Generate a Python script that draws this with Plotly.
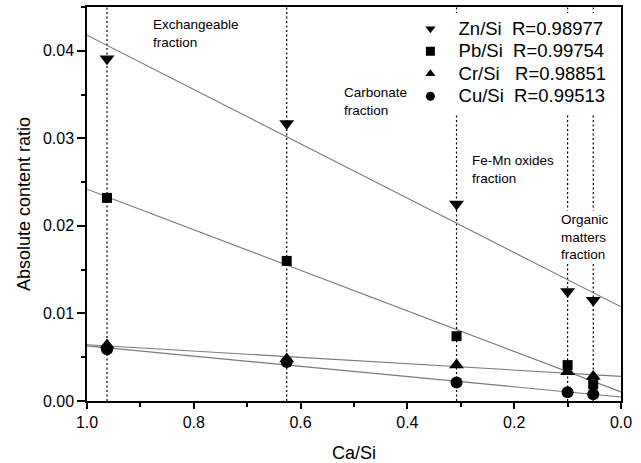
import numpy as np
import plotly.graph_objects as go

# ---- data ----
ca_si = [0.9625, 0.626, 0.308, 0.100, 0.052]
zn_si = [0.0391, 0.0317, 0.0225, 0.0125, 0.0115]
pb_si = [0.0232, 0.0160, 0.0074, 0.0041, 0.0019]
cr_si = [0.0064, 0.0048, 0.0041, 0.00335, 0.0028]
cu_si = [0.0059, 0.00445, 0.0021, 0.0010, 0.00077]

series_names = ["Zn/Si", "Pb/Si", "Cr/Si", "Cu/Si"]
r_labels = ["R=0.98977", "R=0.99754", "R=0.98851", "R=0.99513"]
name_gaps = [2, 2, 3, 2]
symbols = ["triangle-down", "square", "triangle-up", "circle"]
marker_sizes = [13, 10, 13, 12]

fraction_labels = ["Exchangeable<br>fraction", "Carbonate<br>fraction",
                   "Fe-Mn oxides<br>fraction", "Organic<br>matters<br>fraction"]
fraction_label_x = [0.881, 0.522, 0.283, 0.116]
fraction_label_y = [0.0441, 0.0363, 0.0286, 0.0218]

x_range = [1.0, 0.0]
y_range = [0.0, 0.045]
x_tickvals = [0.0, 0.2, 0.4, 0.6, 0.8, 1.0]
y_tickvals = [0.00, 0.01, 0.02, 0.03, 0.04]

FONT = "Liberation Sans, Arial, Helvetica, sans-serif"

fig = go.Figure()

# vertical dotted lines at each fraction
for xv in ca_si:
    fig.add_trace(go.Scatter(x=[xv, xv], y=y_range, mode="lines",
                             line=dict(color="black", width=1.2, dash="2px,2.5px"),
                             showlegend=False, hoverinfo="skip"))

all_series = [zn_si, pb_si, cr_si, cu_si]
# linear fit lines
for ys in all_series:
    slope, intercept = np.polyfit(ca_si, ys, 1)
    xf = np.array(x_range)
    fig.add_trace(go.Scatter(x=xf, y=slope * xf + intercept, mode="lines",
                             line=dict(color="#7a7a7a", width=1.1),
                             showlegend=False, hoverinfo="skip"))

# data markers
for ys, sym, ms in zip(all_series, symbols, marker_sizes):
    fig.add_trace(go.Scatter(x=ca_si, y=ys, mode="markers",
                             marker=dict(symbol=sym, size=ms, color="black"),
                             showlegend=False))

# legend-only entries
for nm, rl, gap, sym in zip(series_names, r_labels, name_gaps, symbols):
    label = "\u00a0" + nm + "\u00a0" * gap + rl
    fig.add_trace(go.Scatter(x=[None], y=[None], mode="markers",
                             marker=dict(symbol=sym, size=9, color="black"),
                             name='<span style="font-size:18.5px">' + label + "</span>"))

for txt, ax, ay in zip(fraction_labels, fraction_label_x, fraction_label_y):
    fig.add_annotation(x=ax, y=ay, xref="x", yref="y", text=txt, showarrow=False,
                       xanchor="left", yanchor="top", align="left",
                       bgcolor="white", borderpad=1,
                       font=dict(family=FONT, size=13.5, color="black"))

axis_common = dict(showline=True, linecolor="black", linewidth=1.5, mirror=True,
                   ticks="outside", tickwidth=1.5, tickcolor="black",
                   showgrid=False, zeroline=False, automargin=False,
                   tickfont=dict(family=FONT, size=16, color="black"))

fig.update_xaxes(range=x_range, tickvals=x_tickvals, tickformat=".1f", ticklen=6,
                 minor=dict(dtick=0.1, ticks="outside", ticklen=4, tickwidth=1.5,
                            tickcolor="black", showgrid=False),
                 title=dict(text="Ca/Si", font=dict(family=FONT, size=18, color="black"),
                            standoff=18),
                 **axis_common)
fig.update_yaxes(range=y_range, tickvals=y_tickvals, tickformat=".2f", ticklen=8,
                 minor=dict(dtick=0.005, ticks="outside", ticklen=4, tickwidth=1.5,
                            tickcolor="black", showgrid=False),
                 title=dict(text="Absolute content ratio",
                            font=dict(family=FONT, size=18, color="black"), standoff=8),
                 **axis_common)

fig.update_layout(
    width=641, height=463,
    margin=dict(l=87, r=20, t=7, b=62),
    plot_bgcolor="white", paper_bgcolor="white",
    font=dict(family=FONT, color="black"),
    legend=dict(x=0.6, y=0.986, xanchor="left", yanchor="top",
                bgcolor="white", borderwidth=0,
                font=dict(family=FONT, size=15, color="black"),
                itemwidth=36, tracegroupgap=0),
)

fig.write_html("out.html")
